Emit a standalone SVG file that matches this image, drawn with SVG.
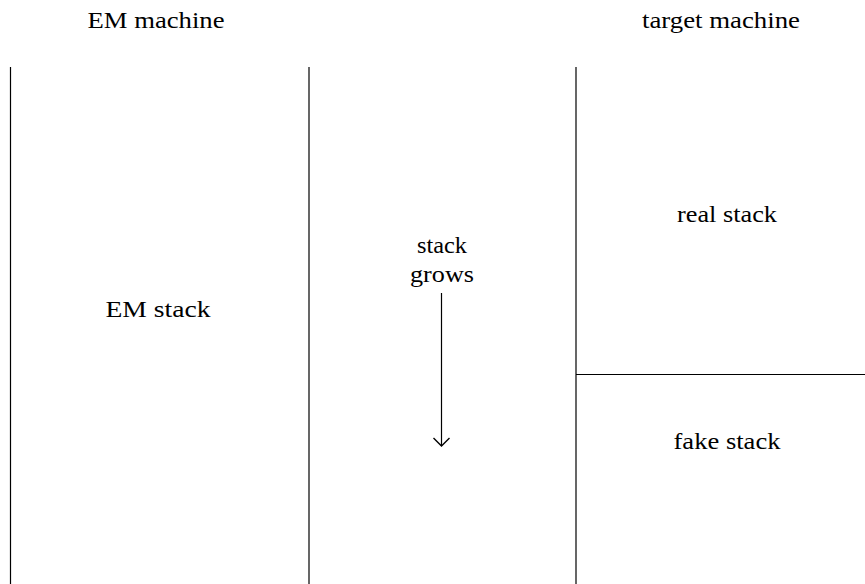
<svg xmlns="http://www.w3.org/2000/svg" width="865" height="584" viewBox="0 0 865 584">
<style>
.t{font-family:"Liberation Serif","DejaVu Serif","Noto Serif",Tinos,"Times New Roman",Times,serif;font-size:23px;fill:#000;text-anchor:middle}
.l{stroke:#000;stroke-width:1.2;fill:none}
</style>
<defs>
<marker id="a" markerWidth="12" markerHeight="20" refX="9" refY="8" orient="auto" markerUnits="userSpaceOnUse" viewBox="0 0 12 16">
<path d="M1,0 L9,8 L1,16" stroke="#000" stroke-width="1.4" fill="none"/>
</marker>
</defs>
<rect width="865" height="584" fill="#fff"/>
<g id="labels" class="t">
<text x="156" y="28" textLength="137" lengthAdjust="spacingAndGlyphs">EM machine</text>
<text x="721" y="28" textLength="158" lengthAdjust="spacingAndGlyphs">target machine</text>
</g>
<g id="em-stack">
<line class="l" x1="10.5" y1="67" x2="10.5" y2="584"/>
<line class="l" x1="309" y1="67" x2="309" y2="584"/>
<text class="t" x="158" y="317" textLength="105" lengthAdjust="spacingAndGlyphs">EM stack</text>
</g>
<g id="real-stack">
<line class="l" x1="576" y1="67" x2="576" y2="584"/>
<text class="t" x="727" y="222" textLength="100" lengthAdjust="spacingAndGlyphs">real stack</text>
</g>
<g id="fake-stack">
<line class="l" x1="576" y1="374.5" x2="865" y2="374.5"/>
<text class="t" x="727" y="449" textLength="107" lengthAdjust="spacingAndGlyphs">fake stack</text>
</g>
<g id="connectors" class="t">
<text x="442" y="253" textLength="50" lengthAdjust="spacingAndGlyphs">stack</text>
<text x="442" y="282" textLength="64" lengthAdjust="spacingAndGlyphs">grows</text>
<line class="l" x1="441.5" y1="293" x2="441.5" y2="446" marker-end="url(#a)"/>
</g>
</svg>
